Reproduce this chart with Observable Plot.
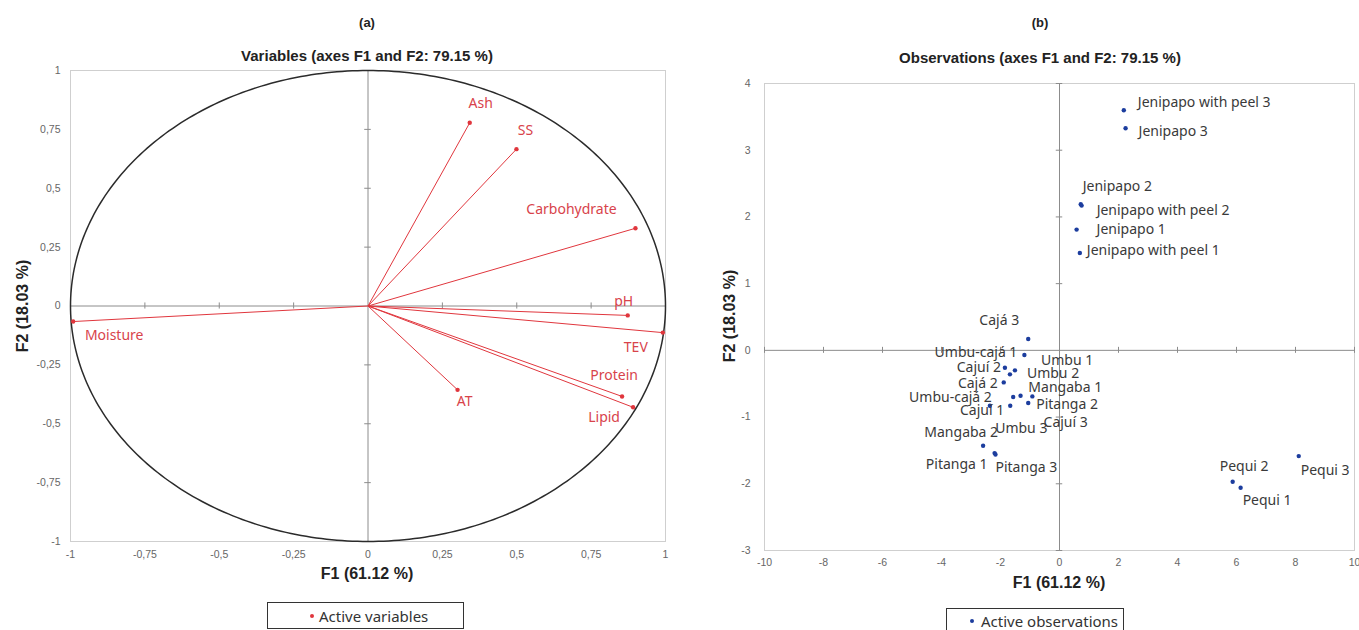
<!DOCTYPE html>
<html>
<head>
<meta charset="utf-8">
<script src="https://cdn.jsdelivr.net/npm/d3@7"></script>
<script src="https://cdn.jsdelivr.net/npm/@observablehq/plot@0.6"></script>
<style>
  html, body { margin: 0; padding: 0; background: #fff; }
  #root { position: relative; width: 1359px; height: 630px; overflow: hidden; background: #fff; font-family: "Liberation Sans", Arial, sans-serif; }
  .abs { position: absolute; white-space: nowrap; }
  .head { font-weight: bold; font-size: 13px; color: #222; transform: translate(-50%, -50%); }
  .ttl { font-weight: bold; font-size: 15px; color: #222; transform: translate(-50%, -50%); }
  .axt { font-weight: bold; font-size: 16px; color: #222; transform: translate(-50%, -50%); }
  .axty { font-weight: bold; font-size: 16px; color: #222; transform: translate(-50%, -50%) rotate(-90deg); }
  .legend { border: 1px solid #333; box-sizing: border-box; font-family: "Noto Sans", sans-serif; font-size: 15px; color: #333; }
  .legend .dot { position: absolute; width: 4px; height: 4px; border-radius: 50%; }
  .legend .txt { position: absolute; transform: translateY(-50%); line-height: 16px; }
</style>
</head>
<body>
<div id="root"></div>
<script>
// ---------------- DATA ----------------
// (a) Variables – loadings on F1 / F2
const varNames = ["Ash", "SS", "Carbohydrate", "pH", "TEV", "Protein", "Lipid", "AT", "Moisture"];
const varF1 = [0.342, 0.499, 0.899, 0.873, 0.991, 0.854, 0.891, 0.301, -0.991];
const varF2 = [0.778, 0.666, 0.330, -0.040, -0.113, -0.384, -0.430, -0.356, -0.066];

// (b) Observations – scores on F1 / F2
const obsNames = [
  "Jenipapo with peel 3", "Jenipapo 3", "Jenipapo 2", "Jenipapo with peel 2", "Jenipapo 1", "Jenipapo with peel 1",
  "Cajá 3", "Umbu-cajá 1", "Umbu 1", "Cajuí 2", "Umbu 2", "Cajá 2", "Mangaba 1", "Cajuí 3", "Umbu 3",
  "Umbu-cajá 2", "Cajuí 1", "Pitanga 2", "Mangaba 2", "Pitanga 1", "Pitanga 3", "Pequi 1", "Pequi 2", "Pequi 3"
];
const obsF1 = [2.18, 2.24, 0.72, 0.75, 0.58, 0.69, -1.06, -1.19, -1.51, -1.85, -1.68, -1.89, -0.92, -1.32, -1.57, -2.36, -1.67, -1.06, -2.59, -2.20, -2.17, 6.14, 5.87, 8.11];
const obsF2 = [3.60, 3.33, 2.19, 2.17, 1.81, 1.46, 0.17, -0.07, -0.30, -0.26, -0.36, -0.48, -0.69, -0.68, -0.70, -0.83, -0.83, -0.79, -1.43, -1.54, -1.56, -2.06, -1.97, -1.585];

// Tick labels
const ticksA = [-1, -0.75, -0.5, -0.25, 0, 0.25, 0.5, 0.75, 1];
const ticksBx = [-10, -8, -6, -4, -2, 0, 2, 4, 6, 8, 10];
const ticksBy = [-3, -2, -1, 0, 1, 2, 3, 4];

// Text
const headA = "(a)", headB = "(b)";
const titleA = "Variables (axes F1 and F2: 79.15 %)";
const titleB = "Observations  (axes F1 and F2: 79.15 %)";
const xLabel = "F1 (61.12 %)", yLabel = "F2 (18.03 %)";
const legendA = "Active variables", legendB = "Active observations";

// ---------------- LAYOUT (label offsets in px: dx, dy, anchor) ----------------
const varLabelPos = {
  "Ash": [11, -19, "middle"], "SS": [9, -19, "middle"], "Carbohydrate": [-64, -19, "middle"],
  "pH": [-4, -14, "middle"], "TEV": [-27, 15, "middle"], "Protein": [-8, -21, "middle"],
  "Lipid": [-29, 10, "middle"], "AT": [7, 12, "middle"], "Moisture": [41, 14, "middle"]
};
const obsLabelPos = {
  "Jenipapo with peel 3": [14, -8, "start"], "Jenipapo 3": [13, 3, "start"], "Jenipapo 2": [2, -18, "start"],
  "Jenipapo with peel 2": [15, 5, "start"], "Jenipapo 1": [20, 0, "start"], "Jenipapo with peel 1": [7, -2, "start"],
  "Cajá 3": [-29, -19, "middle"], "Umbu-cajá 1": [-7, -3, "end"], "Umbu 1": [26, -10, "start"],
  "Cajuí 2": [-4, 0, "end"], "Umbu 2": [17, -1, "start"], "Cajá 2": [-6, 1, "end"],
  "Mangaba 1": [-4, -9, "start"], "Cajuí 3": [23, 27, "start"], "Umbu 3": [-18, 31, "start"],
  "Umbu-cajá 2": [2, -8, "end"], "Cajuí 1": [-6, 5, "end"], "Pitanga 2": [8, 1, "start"],
  "Mangaba 2": [15, -13, "end"], "Pitanga 1": [-7, 11, "end"], "Pitanga 3": [0, 13, "start"],
  "Pequi 1": [2, 13, "start"], "Pequi 2": [-13, -15, "start"], "Pequi 3": [2, 14, "start"]
};

const RED = "#e0363d", RED_TXT = "#d8434b", BLUE = "#1c3d9e";
const LABEL_SIZE = 14, TICK_SIZE = 10.5;
const root = document.getElementById("root");
const comma = d => String(d).replace(".", ",");

function addText(cls, txt, x, y) {
  const el = document.createElement("div");
  el.className = "abs " + cls;
  el.textContent = txt;
  el.style.left = x + "px";
  el.style.top = y + "px";
  root.appendChild(el);
  return el;
}

// ---------------- PANEL (a) ----------------
const vIdx = d3.range(varNames.length);
const circle = d3.range(0, 361).map(a => ({x: Math.cos(a * Math.PI / 180), y: Math.sin(a * Math.PI / 180)}));
const innerA = ticksA.filter(d => d !== 0 && Math.abs(d) < 1);

const plotA = Plot.plot({
  width: 690, height: 520,
  marginLeft: 70, marginRight: 25, marginTop: 10, marginBottom: 39,
  x: {domain: [-1, 1]}, y: {domain: [-1, 1]},
  style: {fontFamily: "Liberation Sans, Arial, sans-serif", background: "transparent", overflow: "visible"},
  marks: [
    Plot.frame({stroke: "#cfcfcf"}),
    Plot.ruleX([0], {stroke: "#8c8c8c"}),
    Plot.ruleY([0], {stroke: "#8c8c8c"}),
    Plot.ruleY(innerA, {y: d => d, x1: -0.011, x2: 0.011, stroke: "#8c8c8c"}),
    Plot.ruleX(innerA, {x: d => d, y1: -0.013, y2: 0.013, stroke: "#8c8c8c"}),
    Plot.line(circle, {x: "x", y: "y", stroke: "#2b2b2b", strokeWidth: 1.5}),
    Plot.link(vIdx, {x1: 0, y1: 0, x2: i => varF1[i], y2: i => varF2[i], stroke: RED, strokeWidth: 1}),
    Plot.dot(vIdx, {x: i => varF1[i], y: i => varF2[i], r: 2.2, fill: RED, stroke: "none"}),
    ...vIdx.map(i => {
      const [dx, dy, anchor] = varLabelPos[varNames[i]];
      return Plot.text([i], {x: i => varF1[i], y: i => varF2[i], text: i => varNames[i], dx, dy, textAnchor: anchor,
        fill: RED_TXT, fontSize: LABEL_SIZE, fontFamily: "Noto Sans, sans-serif"});
    }),
    Plot.axisX({ticks: ticksA, tickSize: 0, tickPadding: 9, tickFormat: comma, fontSize: TICK_SIZE, fill: "#666", label: null}),
    Plot.axisY({ticks: ticksA, tickSize: 0, tickPadding: 10, tickFormat: comma, fontSize: TICK_SIZE, fill: "#666", label: null})
  ]
});
plotA.style.position = "absolute";
plotA.style.left = "0px";
plotA.style.top = "60px";
root.appendChild(plotA);

// ---------------- PANEL (b) ----------------
const oIdx = d3.range(obsNames.length);
const innerBy = ticksBy.filter(d => d !== 0);
const innerBx = ticksBx.filter(d => d !== 0);

const plotB = Plot.plot({
  width: 669, height: 520,
  marginLeft: 74, marginRight: 5, marginTop: 23, marginBottom: 30,
  x: {domain: [-10, 10]}, y: {domain: [-3, 4]},
  style: {fontFamily: "Liberation Sans, Arial, sans-serif", background: "transparent", overflow: "visible"},
  marks: [
    Plot.frame({stroke: "#cfcfcf"}),
    Plot.ruleX([0], {stroke: "#8c8c8c"}),
    Plot.ruleY([0], {stroke: "#8c8c8c"}),
    Plot.ruleY(innerBy, {y: d => d, x1: -0.11, x2: 0.11, stroke: "#8c8c8c"}),
    Plot.ruleX(innerBx, {x: d => d, y1: -0.045, y2: 0.045, stroke: "#8c8c8c"}),
    Plot.dot(oIdx, {x: i => obsF1[i], y: i => obsF2[i], r: 2.2, fill: BLUE, stroke: "none"}),
    ...oIdx.map(i => {
      const [dx, dy, anchor] = obsLabelPos[obsNames[i]];
      return Plot.text([i], {x: i => obsF1[i], y: i => obsF2[i], text: i => obsNames[i], dx, dy, textAnchor: anchor,
        fill: "#3a3a3a", fontSize: LABEL_SIZE, fontFamily: "Noto Sans, sans-serif"});
    }),
    Plot.axisX({ticks: ticksBx, tickSize: 0, tickPadding: 8, fontSize: TICK_SIZE, fill: "#666", label: null, tickFormat: d => String(d)}),
    Plot.axisY({ticks: ticksBy, tickSize: 0, tickPadding: 14, fontSize: TICK_SIZE, fill: "#666", label: null, tickFormat: d => String(d)})
  ]
});
plotB.style.position = "absolute";
plotB.style.left = "690px";
plotB.style.top = "60px";
root.appendChild(plotB);

// ---------------- TEXT ----------------
addText("head", headA, 367, 22);
addText("head", headB, 1040, 22);
addText("ttl", titleA, 367, 55);
addText("ttl", titleB, 1040, 57);
addText("axt", xLabel, 367, 574);
addText("axty", yLabel, 23, 306);
addText("axt", xLabel, 1059, 583);
addText("axty", yLabel, 730, 316);

function addLegend(x, y, w, h, color, label, dotX, txtX, cy) {
  const box = document.createElement("div");
  box.className = "abs legend";
  Object.assign(box.style, {left: x + "px", top: y + "px", width: w + "px", height: h + "px"});
  const dot = document.createElement("div");
  dot.className = "dot";
  Object.assign(dot.style, {left: (dotX - x - 2) + "px", top: (cy - y - 2) + "px", background: color});
  const t = document.createElement("div");
  t.className = "txt";
  t.textContent = label;
  Object.assign(t.style, {left: (txtX - x) + "px", top: (cy - y) + "px"});
  box.appendChild(dot);
  box.appendChild(t);
  root.appendChild(box);
}
addLegend(267, 602, 197, 27, RED, legendA, 311, 318, 615);
addLegend(946, 608, 178, 40, BLUE, legendB, 971, 980, 620);
</script>
</body>
</html>
